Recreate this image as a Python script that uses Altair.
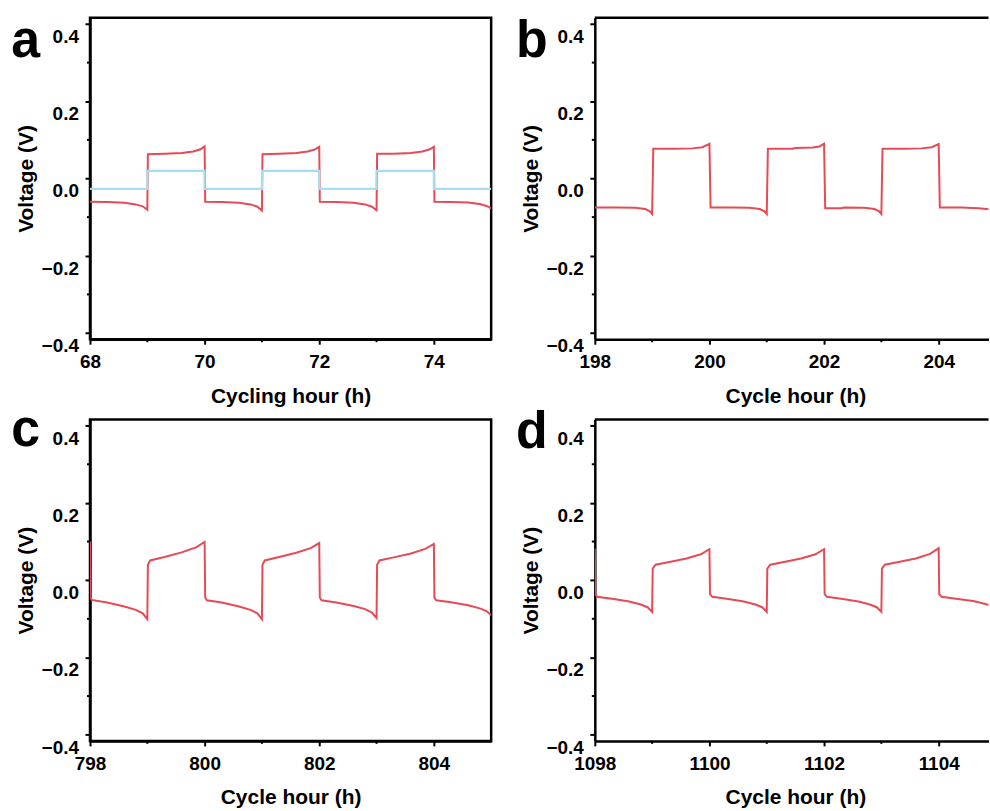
import altair as alt
import pandas as pd

RED = "#e64b55"
BLUE = "#a6ddf0"
FONT = "Liberation Sans"

# ---------------- data ----------------
# panel a: red (cell) and light blue (reference) voltage profiles
a_h = [68.00, 68.30, 68.60, 68.80, 68.92, 69.00,
       69.01, 69.30, 69.60, 69.80, 69.92, 70.00,
       70.01, 70.30, 70.60, 70.80, 70.92, 71.00,
       71.01, 71.30, 71.60, 71.80, 71.92, 72.00,
       72.01, 72.30, 72.60, 72.80, 72.92, 73.00,
       73.01, 73.30, 73.60, 73.80, 73.92, 74.00,
       74.01, 74.30, 74.60, 74.80, 74.92, 75.00]
a_v = [-0.060, -0.061, -0.063, -0.067, -0.072, -0.081,
       0.063, 0.064, 0.066, 0.070, 0.075, 0.083,
       -0.060, -0.061, -0.063, -0.067, -0.073, -0.083,
       0.063, 0.064, 0.066, 0.070, 0.075, 0.082,
       -0.060, -0.061, -0.063, -0.067, -0.073, -0.082,
       0.064, 0.064, 0.066, 0.070, 0.075, 0.082,
       -0.060, -0.061, -0.062, -0.066, -0.071, -0.077]
a_blue_h = [68, 69, 69, 70, 70, 71, 71, 72, 72, 73, 73, 74, 74, 75]
a_blue_v = [-0.027, -0.027, 0.020, 0.020, -0.027, -0.027, 0.020, 0.020,
            -0.027, -0.027, 0.020, 0.020, -0.027, -0.027]

# panel b
b_h = [198.00, 198.40, 198.70, 198.88, 198.96, 199.00,
       199.02, 199.40, 199.70, 199.88, 200.00,
       200.02, 200.40, 200.70, 200.88, 200.96, 201.00,
       201.02, 201.45, 201.50, 201.80, 201.92, 202.00,
       202.02, 202.30, 202.35, 202.70, 202.88, 202.96, 203.00,
       203.02, 203.40, 203.70, 203.88, 204.00,
       204.02, 204.40, 204.70, 204.90, 205.00]
b_v = [-0.075, -0.075, -0.076, -0.079, -0.085, -0.092,
       0.077, 0.077, 0.078, 0.081, 0.090,
       -0.075, -0.075, -0.076, -0.079, -0.085, -0.092,
       0.077, 0.077, 0.079, 0.080, 0.083, 0.090,
       -0.077, -0.077, -0.075, -0.076, -0.079, -0.085, -0.092,
       0.077, 0.077, 0.078, 0.081, 0.089,
       -0.075, -0.075, -0.077, -0.080, -0.082]

# panel c
c_h = [798.00, 798.01, 798.03, 798.30, 798.60, 798.80, 798.92, 799.00,
       799.01, 799.05, 799.30, 799.60, 799.85, 800.00,
       800.01, 800.04, 800.30, 800.60, 800.80, 800.92, 801.00,
       801.01, 801.05, 801.30, 801.60, 801.85, 802.00,
       802.01, 802.04, 802.30, 802.60, 802.80, 802.92, 803.00,
       803.01, 803.05, 803.30, 803.60, 803.85, 804.00,
       804.01, 804.04, 804.30, 804.60, 804.80, 804.92, 805.00]
c_v = [0.100, -0.045, -0.051, -0.058, -0.068, -0.077, -0.086, -0.101,
       0.040, 0.051, 0.060, 0.072, 0.085, 0.099,
       -0.045, -0.052, -0.058, -0.068, -0.077, -0.086, -0.101,
       0.040, 0.051, 0.060, 0.071, 0.083, 0.096,
       -0.045, -0.052, -0.058, -0.067, -0.075, -0.084, -0.098,
       0.040, 0.051, 0.059, 0.069, 0.081, 0.094,
       -0.045, -0.052, -0.057, -0.065, -0.073, -0.080, -0.091]

# panel d
d_h = [1098.00, 1098.01, 1098.04, 1098.30, 1098.60, 1098.80, 1098.92, 1099.00,
       1099.01, 1099.06, 1099.30, 1099.60, 1099.85, 1100.00,
       1100.01, 1100.05, 1100.30, 1100.60, 1100.80, 1100.92, 1101.00,
       1101.01, 1101.06, 1101.30, 1101.60, 1101.85, 1102.00,
       1102.01, 1102.05, 1102.30, 1102.60, 1102.80, 1102.92, 1103.00,
       1103.01, 1103.06, 1103.30, 1103.60, 1103.85, 1104.00,
       1104.01, 1104.05, 1104.30, 1104.60, 1104.80, 1104.92, 1105.00]
d_v = [0.082, -0.036, -0.043, -0.048, -0.055, -0.063, -0.070, -0.082,
       0.030, 0.040, 0.047, 0.056, 0.067, 0.080,
       -0.036, -0.043, -0.048, -0.055, -0.063, -0.070, -0.082,
       0.030, 0.040, 0.047, 0.056, 0.067, 0.080,
       -0.036, -0.043, -0.048, -0.055, -0.063, -0.070, -0.082,
       0.030, 0.040, 0.047, 0.056, 0.068, 0.083,
       -0.036, -0.043, -0.048, -0.054, -0.061, -0.066, -0.071]

Y_TICKS = [-0.4, -0.2, 0.0, 0.2, 0.4]
Y_MINOR = [-0.3, -0.1, 0.1, 0.3]
Y_DOMAIN = [-0.416, 0.416]

a_ticks, a_minor = [68, 70, 72, 74], [69, 71, 73]
b_ticks, b_minor = [198, 200, 202, 204], [199, 201, 203]
c_ticks, c_minor = [798, 800, 802, 804], [799, 801, 803]
d_ticks, d_minor = [1098, 1100, 1102, 1104], [1099, 1101, 1103]

# ---------------- layout ----------------
H = 322.5
FULL_W = 402.5          # full plot width of a 7 h window
PX_PER_H = FULL_W / 7.0
W_RIGHT = 395.0         # right column is cut by the picture edge


def panel(series, x0, width, ticks, minor, letter, letter_y, xtitle, boxed):
    x1 = x0 + width / PX_PER_H
    xs = alt.Scale(domain=[x0, x1], nice=False, zero=False)
    ys = alt.Scale(domain=Y_DOMAIN, nice=False, zero=False)
    xax = alt.Axis(values=ticks, format="d", title=xtitle, titleX=FULL_W / 2,
                   titleY=63, titleBaseline="alphabetic", titleAlign="center",
                   labelPadding=8.6, tickSize=5, labelFlush=False)
    yax = alt.Axis(values=Y_TICKS, format=".1f", title="Voltage (V)",
                   titleX=-63.3, titleY=H / 2, titleAngle=270,
                   titleBaseline="middle", titleAlign="center",
                   labelOffset=12.5, labelPadding=6.6, tickSize=5, labelFlush=False)
    layers = []
    for h, v, color, sw in series:
        df = pd.DataFrame({"h": h, "v": v, "i": list(range(len(h)))})
        layers.append(
            alt.Chart(df).mark_line(color=color, strokeWidth=sw, clip=True).encode(
                x=alt.X("h:Q", scale=xs, axis=xax),
                y=alt.Y("v:Q", scale=ys, axis=yax),
                order="i:Q",
            )
        )
    layers.append(
        alt.Chart(pd.DataFrame({"v": Y_MINOR})).mark_rule(color="black", strokeWidth=2).encode(
            y=alt.Y("v:Q", scale=ys, axis=yax), x=alt.value(-3), x2=alt.value(0)
        )
    )
    layers.append(
        alt.Chart(pd.DataFrame({"h": minor})).mark_rule(color="black", strokeWidth=2).encode(
            x=alt.X("h:Q", scale=xs, axis=xax), y=alt.value(H), y2=alt.value(H + 3)
        )
    )
    layers.append(
        alt.Chart(pd.DataFrame({"t": [letter]})).mark_text(
            font=FONT, fontSize=52, fontWeight="bold", align="left",
            baseline="alphabetic", color="black"
        ).encode(text="t:N", x=alt.value(-79), y=alt.value(letter_y))
    )
    if boxed:
        view = alt.ViewBackground(stroke="black", strokeWidth=2.5)
    else:
        view = alt.ViewBackground(strokeWidth=0)
        layers.append(
            alt.Chart(pd.DataFrame({"z": [0]})).mark_rule(color="black", strokeWidth=2.5).encode(
                x=alt.value(0), x2=alt.value(width), y=alt.value(0)
            )
        )
    return alt.layer(*layers).properties(width=width, height=H, view=view)


pa = panel([(a_h, a_v, RED, 2), (a_blue_h, a_blue_v, BLUE, 2.2)], 68, FULL_W,
           a_ticks, a_minor, "a", 39.3, "Cycling hour (h)", True)
pb = panel([(b_h, b_v, RED, 2)], 198, W_RIGHT, b_ticks, b_minor, "b", 39.3,
           "Cycle hour (h)", False)
pc = panel([(c_h, c_v, RED, 2)], 798, FULL_W, c_ticks, c_minor, "c", 27,
           "Cycle hour (h)", True)
pd_ = panel([(d_h, d_v, RED, 2)], 1098, W_RIGHT, d_ticks, d_minor, "d", 29,
            "Cycle hour (h)", False)

chart = alt.concat(pa, pb, pc, pd_, columns=2, spacing={"row": 80, "column": 103.5},
                   bounds="flush").properties(
    padding={"left": 9.3, "top": 12.5, "right": 0, "bottom": 0},
    background="white",
).configure_axis(
    grid=False,
    domainColor="black", domainWidth=2.5,
    tickColor="black", tickWidth=2,
    labelFont=FONT, labelFontSize=19, labelFontWeight="bold", labelColor="black",
    titleFont=FONT, titleFontSize=21, titleFontWeight="bold", titleColor="black",
)

chart.save("out.html", embed_options={"renderer": "svg", "actions": False})
